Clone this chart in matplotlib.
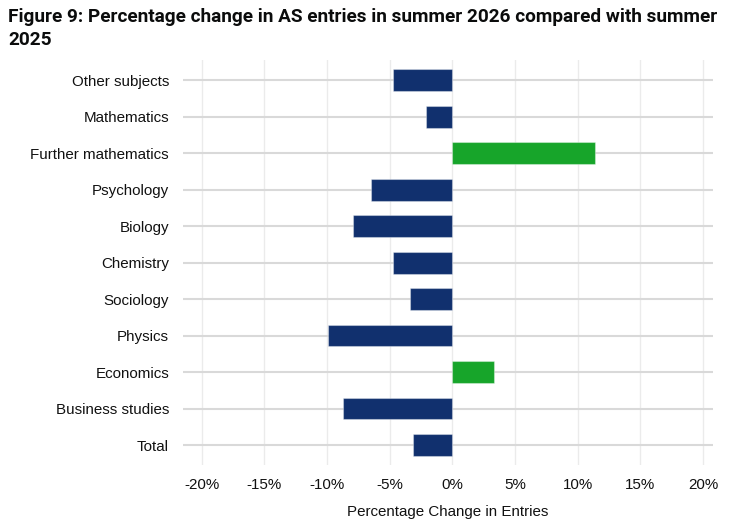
import matplotlib
matplotlib.use('Agg')
import matplotlib.pyplot as plt
import numpy as np
from matplotlib.ticker import FuncFormatter

subjects = ["Other subjects", "Mathematics", "Further mathematics", "Psychology",
            "Biology", "Chemistry", "Sociology", "Physics", "Economics",
            "Business studies", "Total"]
pct_change = [-4.7, -2.1, 11.4, -6.5, -7.9, -4.75, -3.35, -9.9, 3.3, -8.7, -3.15]
xticks = [-20, -15, -10, -5, 0, 5, 10, 15, 20]

navy = '#11306e'
green = '#17a52a'

plt.rcParams['font.family'] = ['Liberation Sans', 'DejaVu Sans']

fig = plt.figure(figsize=(7.3, 5.22), dpi=100)
ax = fig.add_axes([0.2507, 0.109, 0.726, 0.776])

y = np.arange(len(subjects))
colors = [green if v > 0 else navy for v in pct_change]
ax.barh(y, pct_change, height=0.6, color=colors, edgecolor=(1, 1, 1, 0.35),
        linewidth=0.8, zorder=3)

fs = 10.9
ax.set_yticks(y)
ax.set_yticklabels(subjects, fontsize=fs, color='#111111')
ax.set_ylim(len(subjects) - 0.45, -0.55)
ax.set_xlim(-21.5, 20.8)
ax.set_xticks(xticks)
ax.xaxis.set_major_formatter(FuncFormatter(lambda v, p: f"{v:.0f}%"))
for label in ax.get_xticklabels():
    label.set_fontsize(fs)
    label.set_color('#111111')

ax.tick_params(axis='both', length=0)
ax.tick_params(axis='y', pad=10)
ax.tick_params(axis='x', pad=9)

ax.grid(axis='x', color='#ebebeb', lw=1, zorder=0)
ax.grid(axis='y', color='#d9d9d9', lw=1.5, zorder=0)
for s in ax.spines.values():
    s.set_visible(False)

ax.set_xlabel('Percentage Change in Entries', fontsize=fs, labelpad=10, color='#111111')

fig.text(0.011, 0.985, 'Figure 9: Percentage change in AS entries in summer 2026 compared with summer\n2025',
         fontsize=13.65, fontweight='bold', family='Roboto', va='top', ha='left',
         linespacing=1.38, color='#0b0c0c')

fig.savefig('out.png', dpi=100)
